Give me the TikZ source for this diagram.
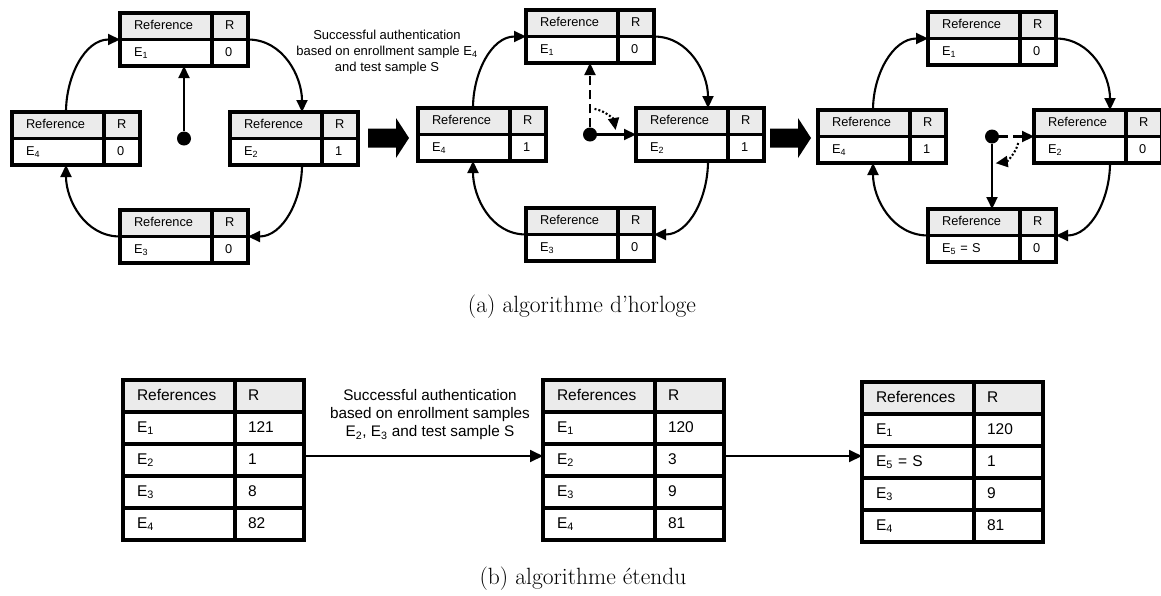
\documentclass[tikz,border=0pt]{standalone}
\usepackage{fontspec}
\setsansfont{Liberation Sans}
\usetikzlibrary{calc,arrows.meta}
\definecolor{hdgray}{HTML}{EBEBEB}
\newcommand{\smp}[1]{E\textsubscript{#1}}
\tikzstyle{frm}=[draw=none, anchor=north west, inner sep=0, outer sep=0]
\tikzstyle{cell}=[draw, line width=3.2pt, anchor=north west, outer sep=0, inner ysep=0, align=left]
\tikzstyle{hd}=[cell, fill=hdgray]
\tikzstyle{sml}=[font=\sffamily\fontsize{12.8}{14}\selectfont, minimum height=26.5pt, text height=9pt, text depth=2pt]
\tikzstyle{lc}=[sml, inner xsep=14pt, text width=64pt]
\tikzstyle{rc}=[sml, inner xsep=13pt, text width=10pt]
\tikzstyle{big}=[font=\sffamily\fontsize{15.5}{17}\selectfont, minimum height=32pt, text height=11pt, text depth=2.5pt]
\tikzstyle{blc}=[big, inner xsep=14pt, text width=84pt]
\tikzstyle{brc}=[big, inner xsep=13pt, text width=43pt]
\tikzstyle{vdot}=[shape=circle, minimum size=14pt, inner sep=0, fill=black]
\tikzstyle{link}=[line width=2.1pt, -{Triangle[length=12pt,width=11pt]}]
\tikzstyle{flow}=[line width=1.8pt, -{Triangle[length=13pt,width=12pt]}]
\tikzstyle{lbl}=[align=center, font=\sffamily\fontsize{13}{16}\selectfont]
\tikzstyle{capt}=[font=\fontsize{23.5}{28}\selectfont]

\begin{document}
\begin{tikzpicture}[x=1pt, y=1pt]
\useasboundingbox (0,0) rectangle (1161,-595);
% clock tables
\foreach \n/\x/\y/\ent/\val in {a1/120/13/\smp{1}/0, a4/12/112/\smp{4}/0, a2/230/112/\smp{2}/1, a3/120/210/\smp{3}/0,
    b1/526/10/\smp{1}/0, b4/418/108/\smp{4}/1, b2/636/108/\smp{2}/1, b3/526/208/\smp{3}/0,
    c1/928/12/\smp{1}/0, c4/818/110/\smp{4}/1, c2/1034/110/\smp{2}/0, c3/928/209/\smp{5} = S/0}
    {
    \node[frm, minimum width=128pt, minimum height=53pt] (\n) at (\x,-\y) {};
    \node[hd, lc] (\n-h) at (\n.north west) {Reference};
    \node[hd, rc] at (\n-h.north east) {R};
    \node[cell, lc] (\n-e) at (\n-h.south west) {\ent};
    \node[cell, rc] at (\n-e.north east) {\val};}
%
\foreach \g/\lsh/\rsh in {a/10/8, b/9/8, c/9/12}
    {
    \draw[link] ([xshift=-\lsh pt]\g4.north) to[out=90, in=180] (\g1.west);
    \draw[link] (\g1.east) to[out=0, in=90] ([xshift=\rsh pt]\g2.north);
    \draw[link] ([xshift=\rsh pt]\g2.south) to[out=-90, in=0] (\g3.east);
    \draw[link] (\g3.west) to[out=180, in=-90] ([xshift=-\lsh pt]\g4.south);}
%
\node[vdot] (d1) at (a1.south |- a4.east) {};
\draw[link] (d1) -- (a1.south);
%
\node[vdot] (d2) at (b1.south |- b2.west) {};
\draw[link, dash pattern=on 9pt off 5pt] (d2) -- (b1.south);
\draw[link] (d2) -- (b2.west);
\draw[link, dash pattern=on 2pt off 2pt] ($(d2)+(80:26pt)$) arc[start angle=80, end angle=10, radius=26pt];
%
\node[vdot] (d3) at (c3.north |- c2.west) {};
\draw[link, dash pattern=on 9pt off 5pt] (d3) -- (c2.west);
\draw[link] (d3) -- (c3.north);
\draw[link, dash pattern=on 2pt off 2pt] ($(d3)+(-14:27pt)$) arc[start angle=-14, end angle=-82, radius=27pt];
%
\foreach \bx in {368,770}
    \fill[shift={(\bx,-138)}] (0,-9.5) -- (28,-9.5) -- (28,-20) -- (41,0) -- (28,20) -- (28,9.5) -- (0,9.5) -- cycle;
%
\node[lbl] (msg1) at (387,-52) {Successful authentication\\based on enrollment sample \smp{4}\\and test sample S};
\node[capt] (capa) at (582,-307) {(a) algorithme d'horloge};
% extended tables
\foreach \t/\x/\y in {t1/123/380, t2/543/380, t3/862/382}
    {
    \coordinate (\t) at (\x,-\y);
    \node[hd, blc] (\t-h) at (\t) {References};
    \node[hd, brc] at (\t-h.north east) {R};}
\foreach \ent/\val [count=\i] in {\smp{1}/121, \smp{2}/1, \smp{3}/8, \smp{4}/82}
    {
    \node[cell, blc] (t1-\i) at ($(t1)+(0,-32*\i)$) {\ent};
    \node[cell, brc] (t1-v\i) at (t1-\i.north east) {\val};}
\foreach \ent/\val [count=\i] in {\smp{1}/120, \smp{2}/3, \smp{3}/9, \smp{4}/81}
    {
    \node[cell, blc] (t2-\i) at ($(t2)+(0,-32*\i)$) {\ent};
    \node[cell, brc] (t2-v\i) at (t2-\i.north east) {\val};}
\foreach \ent/\val [count=\i] in {\smp{1}/120, \smp{5} = S/1, \smp{3}/9, \smp{4}/81}
    {
    \node[cell, blc] (t3-\i) at ($(t3)+(0,-32*\i)$) {\ent};
    \node[cell, brc] (t3-v\i) at (t3-\i.north east) {\val};}
%
\draw[flow] ([yshift=4pt]t1-v2.east) -- ([yshift=4pt]t2-2.west);
\draw[flow] ([yshift=4pt]t2-v2.east) -- ([yshift=4pt]t2-v2.east -| t3-2.west);
\node[lbl, font=\sffamily\fontsize{15.3}{18}\selectfont] (msg2) at (430,-415) {Successful authentication\\based on enrollment samples\\\smp{2}, \smp{3} and test sample S};
\node[capt] (capb) at (583,-579) {(b) algorithme étendu};
\end{tikzpicture}
\end{document}
